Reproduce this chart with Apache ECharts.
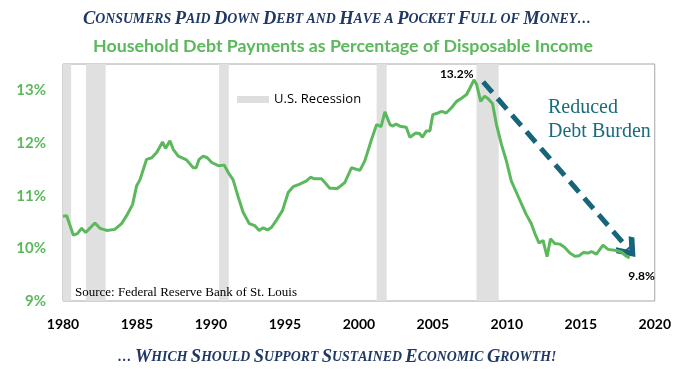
<!DOCTYPE html>
<html><head><meta charset="utf-8">
<script src="https://cdn.jsdelivr.net/npm/echarts@6/dist/echarts.min.js"></script>
<style>html,body{margin:0;padding:0;background:#fff}#c{width:674px;height:372px}</style>
</head><body><div id="c"></div>
<script>
const titleText = 'Consumers Paid Down Debt and Have a Pocket Full of Money\u2026';
const subtitleText = 'Household Debt Payments as Percentage of Disposable Income';
const footerText = '\u2026 Which Should Support Sustained Economic Growth!';
const sourceText = 'Source: Federal Reserve Bank of St. Louis';
const legendName = 'U.S. Recession';
const noteText = 'Reduced\nDebt Burden';

const dates = [1980.0,1980.25,1980.7,1980.97,1981.26,1981.53,1982.16,1982.5,1982.95,1983.5,1983.96,1984.3,1984.7,1984.98,1985.2,1985.65,1986.0,1986.33,1986.73,1986.93,1987.23,1987.45,1987.79,1988.35,1988.8,1989.0,1989.2,1989.48,1989.75,1990.05,1990.5,1990.9,1991.17,1991.5,1991.85,1992.18,1992.59,1992.97,1993.26,1993.53,1993.83,1994.1,1994.44,1994.84,1995.22,1995.56,1996.0,1996.46,1996.73,1997.0,1997.47,1997.7,1998.03,1998.26,1998.5,1998.75,1999.05,1999.5,2000.07,2000.4,2000.86,2001.2,2001.5,2001.76,2002.1,2002.3,2002.5,2002.77,2003.2,2003.45,2003.85,2004.1,2004.3,2004.56,2004.8,2005.0,2005.35,2005.6,2005.9,2006.26,2006.6,2006.94,2007.28,2007.5,2007.78,2007.96,2008.23,2008.5,2008.74,2009.03,2009.3,2009.64,2009.97,2010.3,2010.65,2011.0,2011.3,2011.65,2011.9,2012.18,2012.45,2012.72,2012.95,2013.24,2013.58,2013.9,2014.26,2014.6,2014.9,2015.16,2015.5,2015.72,2016.06,2016.5,2016.84,2017.4,2017.74,2018.08,2018.3];
const debtPct = [10.61,10.62,10.25,10.28,10.38,10.30,10.48,10.38,10.34,10.36,10.47,10.62,10.83,11.19,11.30,11.69,11.72,11.82,12.02,11.90,12.04,11.88,11.75,11.68,11.53,11.53,11.69,11.75,11.72,11.63,11.57,11.58,11.44,11.30,10.97,10.68,10.47,10.43,10.34,10.39,10.35,10.40,10.54,10.72,11.06,11.17,11.22,11.28,11.35,11.32,11.32,11.25,11.14,11.14,11.13,11.18,11.25,11.53,11.48,11.66,12.07,12.35,12.31,12.59,12.35,12.32,12.36,12.32,12.30,12.11,12.19,12.18,12.11,12.23,12.23,12.54,12.57,12.60,12.57,12.67,12.79,12.85,12.92,13.04,13.20,13.11,12.79,12.89,12.84,12.75,12.35,11.97,11.66,11.28,11.06,10.84,10.65,10.47,10.28,10.10,10.15,9.84,10.18,10.09,10.08,10.02,9.91,9.85,9.86,9.92,9.91,9.94,9.89,10.06,9.98,9.96,9.93,9.85,9.82];

const recessionStart = [1980.0, 1981.55, 1990.55, 2001.2, 2007.95];
const recessionEnd   = [1980.55, 1982.88, 1991.2, 2001.88, 2009.45];

const peakPoint = [2007.78, 13.20];
const lastPoint = [2018.3, 9.82];
const arrowFrom = [2008.4, 13.16];
const arrowTo = [2018.25, 9.98];

const xTicks = {min: 1980, max: 2020, step: 5};
const yTicks = {min: 9, max: 13.5, step: 1};

function smallCaps(str) {
  let out = '';
  for (const ch of str) {
    if (ch >= 'A' && ch <= 'Z') out += '{b|' + ch + '}';
    else if (ch === '\u2026') out += '{s|' + ch + '}';
    else out += '{s|' + ch.toUpperCase() + '}';
  }
  return out;
}
const capRich = {
  b: {fontFamily: 'Liberation Serif', fontStyle: 'italic', fontWeight: 'bold', fontSize: 18.5, color: '#1F3864'},
  s: {fontFamily: 'Liberation Serif', fontStyle: 'italic', fontWeight: 'bold', fontSize: 13.8, color: '#1F3864'}
};

const chart = echarts.init(document.getElementById('c'), null, {renderer: 'canvas'});
const markAreaData = recessionStart.map((s, i) => [{xAxis: s}, {xAxis: recessionEnd[i]}]);

chart.setOption({
  animation: false,
  backgroundColor: '#fff',
  title: [
    {text: smallCaps(titleText), left: 'center', top: 5, textStyle: {rich: capRich}},
    {text: subtitleText, left: 88, top: 32, textStyle: {fontFamily: 'Lato', fontWeight: 'bold', fontSize: 17.8, color: '#5CB85C'}},
    {text: smallCaps(footerText), left: 'center', top: 343, textStyle: {rich: capRich}}
  ],
  legend: {
    left: 232, top: 88, icon: 'rect', itemWidth: 32, itemHeight: 7, itemGap: 3,
    data: [legendName],
    textStyle: {fontFamily: 'Open Sans', fontSize: 13, color: '#000'}
  },
  grid: {left: 63, right: 18, top: 64, bottom: 71, show: true, borderColor: '#A6A6A6', borderWidth: 1},
  xAxis: {
    type: 'value', min: xTicks.min, max: xTicks.max, interval: xTicks.step,
    axisLine: {show: false}, axisTick: {show: false}, splitLine: {show: false},
    axisLabel: {margin: 16, fontFamily: 'Lato', fontWeight: 'bold', fontSize: 14, color: '#000', formatter: v => String(v)}
  },
  yAxis: {
    type: 'value', min: yTicks.min, max: yTicks.max, interval: yTicks.step,
    axisLine: {show: false}, axisTick: {show: false}, splitLine: {show: false},
    axisLabel: {margin: 17, fontFamily: 'Lato', fontWeight: 'bold', fontSize: 15, color: '#5CB85C',
      formatter: v => (Math.abs(v - Math.round(v)) < 1e-6 ? Math.round(v) + '%' : '')}
  },
  graphic: [
    {type: 'text', left: 75, top: 286, z: 100, style: {text: sourceText, font: '13px "Liberation Serif"', fill: '#000'}},
    {type: 'text', left: 548, top: 96, z: 100, style: {text: noteText, font: '20px "Liberation Serif"', fill: '#1B6B7E', lineHeight: 24}}
  ],
  series: [
    {
      name: legendName, type: 'line', data: [], color: '#DEDEDE',
      markArea: {silent: true, itemStyle: {color: '#E0E0E0'}, data: markAreaData}
    },
    {
      name: 'Debt', type: 'line', data: dates.map((d, i) => [d, debtPct[i]]),
      showSymbol: false, symbol: 'none', z: 5,
      lineStyle: {color: '#5CB85C', width: 3}, itemStyle: {color: '#5CB85C'},
      markPoint: {
        symbol: 'circle', symbolSize: 1, itemStyle: {color: 'rgba(0,0,0,0)'},
        data: [
          {coord: peakPoint, label: {show: true, position: 'left', distance: 2, offset: [2, -6], formatter: '13.2%', fontFamily: 'Lato', fontWeight: 'bold', fontSize: 12, color: '#000'}},
          {coord: lastPoint, label: {show: true, position: 'bottom', distance: 6, offset: [12, 6], formatter: '9.8%', fontFamily: 'Lato', fontWeight: 'bold', fontSize: 12, color: '#000'}}
        ]
      },
      markLine: {
        silent: true, symbol: ['none', 'path://M0,0 L10,10 L7,13 L0,6 L-7,13 L-10,10 Z'], symbolSize: [24, 20],
        lineStyle: {color: '#17657A', width: 5, type: [14, 8]},
        label: {show: false},
        data: [[{coord: arrowFrom}, {coord: arrowTo}]]
      }
    }
  ]
});
</script></body></html>
